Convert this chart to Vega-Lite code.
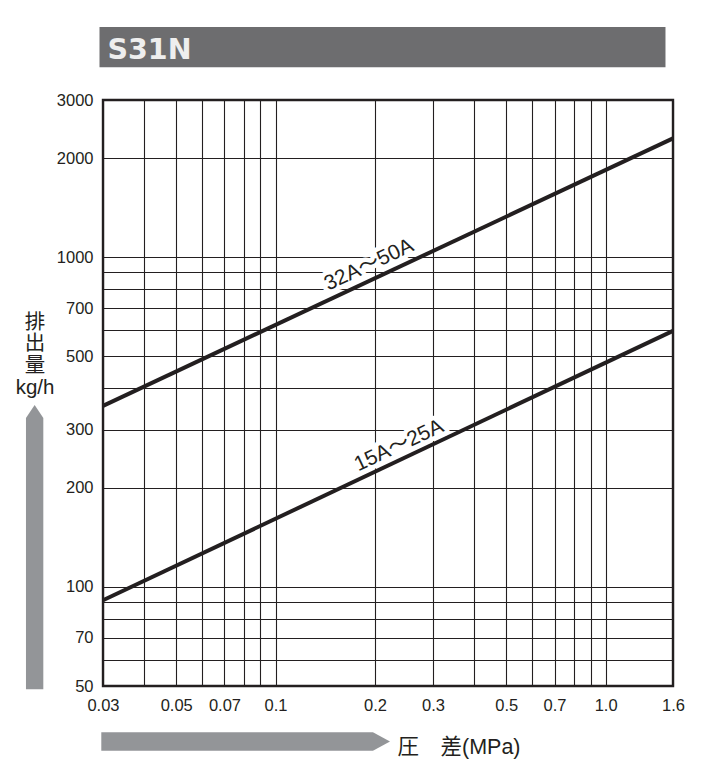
{
  "$schema": "https://vega.github.io/schema/vega-lite/v6.json",
  "description": "S31N discharge capacity vs differential pressure",
  "width": 570,
  "height": 586,
  "autosize": {"type": "none"},
  "padding": {"left": 103, "top": 100, "right": 53, "bottom": 94},
  "background": "white",
  "config": {"view": {"stroke": "#231f20", "strokeWidth": 2.4}},
  "datasets": {
    "curves": [
      {"size_range": "32A～50A", "dp": 0.03, "q": 354},
      {"size_range": "32A～50A", "dp": 1.6, "q": 2294},
      {"size_range": "15A～25A", "dp": 0.03, "q": 91},
      {"size_range": "15A～25A", "dp": 1.6, "q": 598}
    ],
    "labels": [
      {"size_range": "32A～50A", "dp": 0.1919, "q": 947},
      {"size_range": "15A～25A", "dp": 0.2365, "q": 268}
    ],
    "header": [{"model": "S31N"}]
  },
  "layer": [
    {
      "data": {"name": "header"},
      "mark": {"type": "rect", "color": "#6d6d6f"},
      "encoding": {
        "x": {"datum": 0.029276, "type": "quantitative", "scale": {"type": "log", "domain": [0.03, 1.6], "nice": false}},
        "x2": {"datum": 1.5183},
        "y": {"datum": 4996, "type": "quantitative", "scale": {"type": "log", "domain": [50, 3000], "nice": false}},
        "y2": {"datum": 3770}
      }
    },
    {
      "data": {"name": "header"},
      "mark": {"type": "text", "font": "DejaVu Sans", "fontWeight": "bold", "fontSize": 28.5, "align": "left", "baseline": "alphabetic", "color": "#eeeeee"},
      "encoding": {
        "text": {"field": "model"},
        "x": {"datum": 0.030957, "type": "quantitative", "scale": {"type": "log", "domain": [0.03, 1.6], "nice": false}},
        "y": {"datum": 3986, "type": "quantitative", "scale": {"type": "log", "domain": [50, 3000], "nice": false}}
      }
    },
    {
      "data": {"values": [{}]},
      "mark": {"type": "point", "filled": true, "opacity": 1, "color": "#939598", "size": 80826, "shape": "M-0.061,1L0.061,1L0.061,-0.9085L0,-1L-0.061,-0.9085Z"},
      "encoding": {
        "x": {"datum": 0.018621, "type": "quantitative", "scale": {"type": "log", "domain": [0.03, 1.6], "nice": false}},
        "y": {"datum": 131.9, "type": "quantitative", "scale": {"type": "log", "domain": [50, 3000], "nice": false}}
      }
    },
    {
      "data": {"values": [{}]},
      "mark": {"type": "point", "filled": true, "opacity": 1, "color": "#939598", "size": 83348, "shape": "M-1,-0.0637L0.882,-0.0637L1,0L0.882,0.0637L-1,0.0637Z"},
      "encoding": {
        "x": {"datum": 0.081156, "type": "quantitative", "scale": {"type": "log", "domain": [0.03, 1.6], "nice": false}},
        "y": {"datum": 33.93, "type": "quantitative", "scale": {"type": "log", "domain": [50, 3000], "nice": false}}
      }
    },
    {
      "data": {"name": "curves"},
      "mark": {"type": "line", "color": "#231f20", "strokeWidth": 4, "strokeCap": "butt"},
      "encoding": {
        "x": {
          "field": "dp",
          "type": "quantitative",
          "scale": {"type": "log", "domain": [0.03, 1.6], "nice": false},
          "axis": {
            "values": [0.03, 0.04, 0.05, 0.06, 0.07, 0.08, 0.09, 0.1, 0.2, 0.3, 0.4, 0.5, 0.6, 0.7, 0.8, 0.9, 1, 1.6],
            "labelExpr": "indexof([0.03, 0.05, 0.07, 0.1, 0.2, 0.3, 0.5, 0.7, 1, 1.6], datum.value) >= 0 ? (datum.value == 1 ? '1.0' : format(datum.value, '~g')) : ''",
            "grid": true,
            "gridColor": "#231f20",
            "gridWidth": 1.1,
            "gridOpacity": 1,
            "ticks": false,
            "tickSize": 0,
            "domain": false,
            "labelFont": "Liberation Sans",
            "labelFontSize": 16.5,
            "labelColor": "#231f20",
            "labelFlush": false,
            "labelOverlap": false,
            "labelBaseline": "alphabetic",
            "labelPadding": 24.5,
            "title": "圧　差(MPa)",
            "titleFont": "Liberation Sans, Noto Sans CJK JP",
            "titleFontSize": 21.5,
            "titleFontWeight": "normal",
            "titleColor": "#231f20",
            "titleX": 294,
            "titleY": 67,
            "titleAlign": "left",
            "titleBaseline": "alphabetic"
          }
        },
        "y": {
          "field": "q",
          "type": "quantitative",
          "scale": {"type": "log", "domain": [50, 3000], "nice": false},
          "axis": {
            "values": [50, 60, 70, 80, 90, 100, 200, 300, 400, 500, 600, 700, 800, 900, 1000, 2000, 3000],
            "labelExpr": "indexof([50, 70, 100, 200, 300, 500, 700, 1000, 2000, 3000], datum.value) >= 0 ? format(datum.value, 'd') : ''",
            "grid": true,
            "gridColor": "#231f20",
            "gridWidth": 1.1,
            "gridOpacity": 1,
            "ticks": false,
            "tickSize": 0,
            "domain": false,
            "labelFont": "Liberation Sans",
            "labelFontSize": 16.5,
            "labelColor": "#231f20",
            "labelFlush": false,
            "labelOverlap": false,
            "labelPadding": 10,
            "title": ["排", "出", "量", "kg/h"],
            "titleFont": "Liberation Sans, Noto Sans CJK JP",
            "titleFontSize": 20.5,
            "titleFontWeight": "normal",
            "titleColor": "#231f20",
            "titleAngle": 0,
            "titleX": -68.5,
            "titleY": 228,
            "titleAlign": "center",
            "titleBaseline": "alphabetic",
            "titleLineHeight": 21.8
          }
        },
        "detail": {"field": "size_range", "type": "nominal"}
      }
    },
    {
      "data": {"name": "labels"},
      "mark": {"type": "text", "font": "Liberation Sans, Noto Sans CJK JP", "fontSize": 21, "angle": 334.8, "align": "center", "baseline": "middle", "fill": "white", "stroke": "white", "strokeWidth": 9, "strokeJoin": "round"},
      "encoding": {
        "text": {"field": "size_range"},
        "x": {"field": "dp", "type": "quantitative", "scale": {"type": "log", "domain": [0.03, 1.6], "nice": false}},
        "y": {"field": "q", "type": "quantitative", "scale": {"type": "log", "domain": [50, 3000], "nice": false}}
      }
    },
    {
      "data": {"name": "labels"},
      "mark": {"type": "text", "font": "Liberation Sans, Noto Sans CJK JP", "fontSize": 21, "angle": 334.8, "align": "center", "baseline": "middle", "color": "#231f20"},
      "encoding": {
        "text": {"field": "size_range"},
        "x": {"field": "dp", "type": "quantitative", "scale": {"type": "log", "domain": [0.03, 1.6], "nice": false}},
        "y": {"field": "q", "type": "quantitative", "scale": {"type": "log", "domain": [50, 3000], "nice": false}}
      }
    }
  ]
}
